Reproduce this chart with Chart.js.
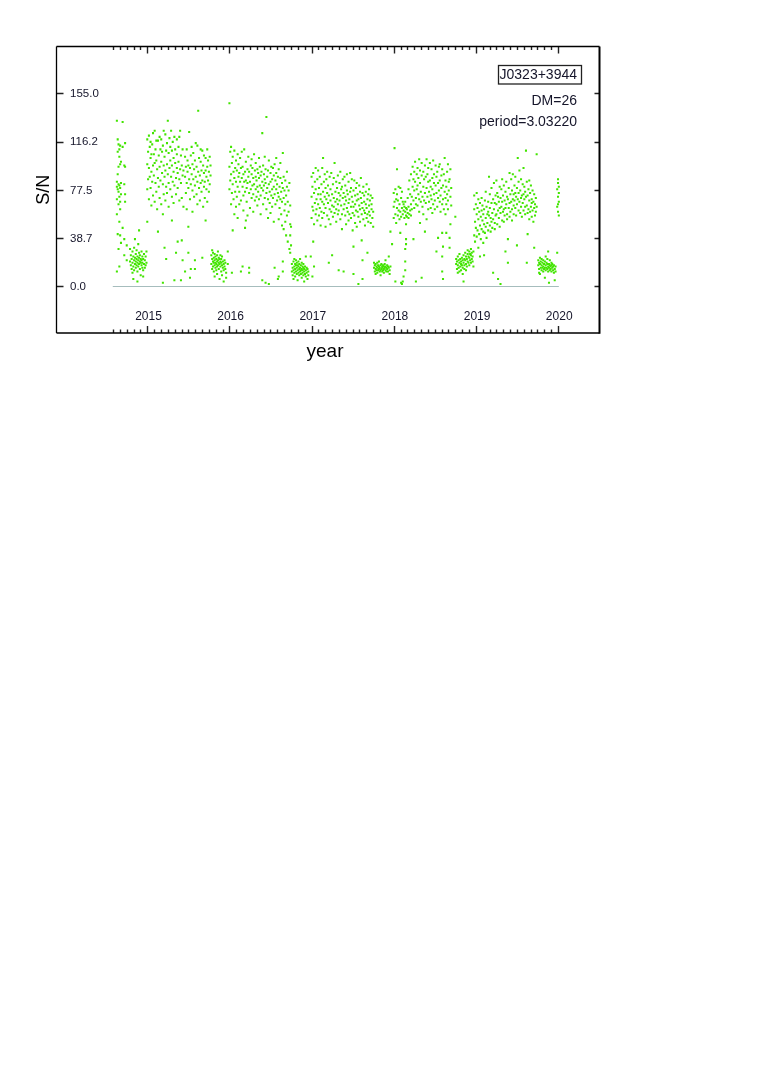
<!DOCTYPE html>
<html><head><meta charset="utf-8">
<script src="https://cdn.jsdelivr.net/npm/chart.js@4.4.1/dist/chart.umd.min.js"></script>
<style>html,body{margin:0;padding:0;background:#fff;overflow:hidden}canvas{display:block}</style>
</head><body>
<canvas id="c" width="762" height="1077" style="width:762px;height:1077px"></canvas>
<script>
// ---- tick values / labels ----
const yTickValues = [0, 38.75, 77.5, 116.25, 155];
const yTickLabels = ['0.0', '38.7', '77.5', '116.2', '155.0'];
const xTickValues = [2015, 2016, 2017, 2018, 2019, 2020];
const xTickLabels = ['2015', '2016', '2017', '2018', '2019', '2020'];
const xLabel = 'year';
const yLabel = 'S/N';
const sourceName = 'J0323+3944';
const infoLines = ['DM=26', 'period=3.03220'];
const baseline = [[2014.58, 0], [2020.01, 0]];

// ---- observations: rows of [year, S/N, S/N, ...] ----
const obsAug2014 = [
[2014.63,133,84,80,70,58,12],[2014.64,118,108,90,78,42],[2014.65,114,96,82,76,66,30],
[2014.66,110,104,81,72,52,16],[2014.67,113,98,79,68,62,41],[2014.68,100,83,74,35],
[2014.70,132,112,47],[2014.72,97,82,38,25],[2014.73,115,96,74,68],[2014.75,33,21]];
const obsLow2014 = [
[2014.79,30,20],[2014.80,25,17],[2014.81,22,14],[2014.82,28,19,11],[2014.83,24,16,6],
[2014.84,21,31,13],[2014.85,18,23,38],[2014.86,20,26,15],[2014.87,22,17,29],[2014.88,19,24,12,4],
[2014.89,21,16,34],[2014.90,23,18,27,45],[2014.91,20,14,25],[2014.92,19,22,9],[2014.93,17,28,21],
[2014.94,15,24,19],[2014.95,13,22,8],[2014.96,18,26],[2014.97,21,15],[2014.98,24,17],[2014.99,19,28]];
const obsHigh2015a = [
[2015.00,98,118,78,52],[2015.01,108,86],[2015.02,121,95,70],[2015.03,88,112],
[2015.04,103,79,116],[2015.05,92,65,106],[2015.06,114,84],[2015.07,97,73,123],
[2015.08,106,89],[2015.09,125,99,68],[2015.10,83,110],[2015.11,101,76,117],
[2015.12,94,62],[2015.13,117,87,44],[2015.14,105,80],[2015.15,96,120,71],
[2015.16,110,85],[2015.17,100,66,118],[2015.18,91,108],[2015.19,113,82,58,3],
[2015.20,125,97,74],[2015.21,104,88,31],[2015.22,122,93,69],[2015.23,109,80,22],
[2015.24,98,115,75],[2015.25,133,90],[2015.26,107,83,64],[2015.27,119,95],
[2015.28,101,78,112],[2015.29,125,88],[2015.30,97,109,72,53],[2015.31,84,116],
[2015.32,103,92,67],[2015.33,120,81,5],[2015.34,99,110],[2015.35,87,74,27],
[2015.36,106,95,118],[2015.37,91,79,36],[2015.38,112,100],[2015.39,120,86,69],
[2015.40,125,94],[2015.41,83,105,5],[2015.42,97,71,37],[2015.43,110,89,21],
[2015.44,93,64]];
const obsHigh2015b = [
[2015.46,88,104,12],[2015.47,75,96],[2015.48,110,83,62],[2015.49,92,101],
[2015.50,79,97,48,27],[2015.51,124,86],[2015.52,95,70,7],[2015.53,105,82,14],
[2015.54,90,112],[2015.55,77,98,60],[2015.56,86,107],[2015.57,94,72],
[2015.58,101,81,21,14],[2015.59,88,115],[2015.60,74,96],[2015.61,113,84,66],
[2015.62,141,92],[2015.63,79,103],[2015.64,89,69],[2015.65,100,83,110],
[2015.66,76,93],[2015.67,109,85,23],[2015.68,64,97],[2015.69,91,80,105],
[2015.70,84,71],[2015.71,103,93,53],[2015.72,78,88],[2015.73,96,110,68],
[2015.74,85,101],[2015.75,92,76],[2015.76,104,82],[2015.77,89,97]];
const obsLow2015 = [
[2015.78,18,25],[2015.79,14,22,29],[2015.80,20,16,27],[2015.81,23,12,19],[2015.82,17,21,26,8],
[2015.83,19,15,24],[2015.84,22,18,13],[2015.85,20,25,16,10],[2015.86,17,21,28],[2015.87,19,14,23],
[2015.88,22,18,6],[2015.89,16,20,25],[2015.90,19,12,22],[2015.91,17,24,9],[2015.92,20,15],
[2015.93,18,13,4],[2015.94,21,16],[2015.95,14,19],[2015.96,11,7],[2015.98,28,18]];
const obsHigh2016 = [
[2016.00,147,96,78],[2016.01,108,85],[2016.02,112,90,66],[2016.03,99,75,11],
[2016.04,104,82,45],[2016.05,92,70],[2016.06,109,87,58],[2016.07,95,76],
[2016.08,84,101,64],[2016.09,93,72],[2016.10,106,80,55],[2016.11,88,98],
[2016.12,76,91,66],[2016.13,103,84],[2016.14,95,69,12],[2016.15,87,108],
[2016.16,80,96,16],[2016.17,73,90,61],[2016.18,110,84],[2016.19,92,76,47],
[2016.20,85,100,53],[2016.21,79,68],[2016.22,94,83,57],[2016.23,88,104],
[2016.24,75,92,15,11],[2016.25,84,63],[2016.26,97,78],[2016.27,90,71,102],
[2016.28,81,95],[2016.29,74,87,60],[2016.30,106,82],[2016.31,93,69],
[2016.32,78,88,99],[2016.33,85,72],[2016.34,94,65,80],[2016.35,76,91],
[2016.36,87,70,103],[2016.37,81,96],[2016.38,73,89,58],[2016.39,92,79],
[2016.40,123,84,5],[2016.41,77,66,97],[2016.42,90,81],[2016.43,71,86,104],
[2016.44,83,94,3],[2016.45,136,75,62],[2016.46,88,79],[2016.47,70,93,55],
[2016.48,82,101,2],[2016.49,76,67],[2016.50,91,84,59],[2016.51,73,96],
[2016.52,86,78,64],[2016.53,95,71],[2016.54,80,89,52],[2016.55,74,98,15],
[2016.56,85,66],[2016.57,78,103,91],[2016.58,69,82],[2016.59,88,75,6],
[2016.60,72,94,54,8],[2016.61,80,63],[2016.62,87,70,99],[2016.63,76,58],
[2016.64,83,68,49],[2016.65,107,79,20,12],[2016.66,71,88,46],[2016.67,77,61],
[2016.68,85,66,52],[2016.69,73,41],[2016.70,80,57,92],[2016.71,68,36],
[2016.72,77,60],[2016.73,83,30],[2016.74,65,50]];
const obsLow2016 = [
[2016.74,27,41],[2016.75,48,33],[2016.76,18,12],[2016.77,15,9],[2016.78,20,13,6],
[2016.79,16,11,22],[2016.80,14,18,8],[2016.81,12,17,21],[2016.82,15,10,19],[2016.83,13,17,5],
[2016.84,16,11,20],[2016.85,14,18,9],[2016.86,12,15,22],[2016.87,17,10,13],[2016.88,14,19,7],
[2016.89,11,16,13],[2016.90,15,9,18],[2016.91,12,14,4],[2016.92,16,10],[2016.93,24,13,8],
[2016.94,11,15],[2016.95,14,6],[2016.96,9,12],[2016.99,24],[2017.01,8]];
const obsHigh2017 = [
[2017.00,72,55,88],[2017.01,64,80],[2017.02,91,61,36],[2017.03,75,50,16],
[2017.04,84,67],[2017.05,58,78,95],[2017.06,70,62],[2017.07,86,53],
[2017.08,66,93,74],[2017.09,79,57],[2017.10,63,88],[2017.11,74,49,70],
[2017.12,82,60],[2017.13,68,95,55],[2017.14,103,76],[2017.15,59,84,66],
[2017.16,72,90],[2017.17,63,48,79],[2017.18,86,70],[2017.19,57,75,92],
[2017.20,67,81],[2017.21,73,19,54],[2017.22,88,62],[2017.23,69,78,50],
[2017.24,91,60],[2017.25,74,25,65],[2017.26,82,56],[2017.27,64,87,71],
[2017.28,99,59],[2017.29,76,68],[2017.30,62,84,52],[2017.31,70,79],
[2017.32,58,89,66],[2017.33,75,13,61],[2017.34,83,69],[2017.35,54,92,73],
[2017.36,65,78],[2017.37,80,58,46],[2017.38,71,86],[2017.39,62,75,12],
[2017.40,88,66],[2017.41,57,72,81],[2017.42,69,50],[2017.43,77,63,90],
[2017.44,60,74],[2017.45,84,67,53],[2017.46,70,58],[2017.47,91,76],
[2017.48,64,55,79],[2017.49,72,86],[2017.50,59,68,45],[2017.51,77,64,32,10],
[2017.52,85,57],[2017.53,66,73,51],[2017.54,79,61],[2017.55,69,48,83],
[2017.56,74,60],[2017.57,56,70,2],[2017.58,81,65],[2017.59,62,52,76],
[2017.60,71,87],[2017.61,58,67,37],[2017.62,75,63,21,6],[2017.63,54,80],
[2017.64,68,61,73],[2017.65,59,49],[2017.66,76,66],[2017.67,63,55,82],
[2017.68,70,58,27],[2017.69,52,74],[2017.70,65,60,78],[2017.71,57,69],
[2017.72,73,51],[2017.73,62,66],[2017.74,55,71],[2017.75,60,48]];
const obsLow2017 = [
[2017.76,15,19],[2017.77,12,17],[2017.78,14,18,10],[2017.79,16,13],[2017.80,15,19,11],
[2017.81,13,17],[2017.82,16,14,20],[2017.83,12,15],[2017.84,17,13,9],[2017.85,14,18],
[2017.86,15,12,16],[2017.87,13,17],[2017.88,16,14,11],[2017.89,18,15],[2017.90,13,16,21],
[2017.91,15,12],[2017.92,17,14],[2017.93,12,16],[2017.94,24,15],[2017.95,13,10],
[2017.96,44,16],[2017.98,34],[2018.02,4],[2018.09,3]];
const obsHigh2018 = [
[2018.00,64,75,55],[2018.01,111,68],[2018.02,78,58],[2018.03,70,51],
[2018.04,94,63,74],[2018.05,57,69],[2018.06,80,61],[2018.07,66,54],
[2018.08,79,60,43],[2018.09,71,56],[2018.10,63,76,2],[2018.11,58,68,4],
[2018.12,61,66,8],[2018.13,55,64],[2018.14,60,68,30,20,13],[2018.15,57,63,50,38,34],
[2018.16,62,56],[2018.17,59,71],[2018.18,64,55,78],[2018.19,58,85],
[2018.20,61,74],[2018.21,66,90,57],[2018.22,72,62],[2018.23,80,96],
[2018.24,69,86,38],[2018.25,77,63,92],[2018.26,84,100],[2018.27,71,66,4],
[2018.28,90,78],[2018.29,65,95,81],[2018.30,74,87],[2018.31,102,70,60],
[2018.32,83,93,51],[2018.33,68,76],[2018.34,89,99,7],[2018.35,72,64],
[2018.36,80,92,58],[2018.37,86,69],[2018.38,97,75,44],[2018.39,67,88],
[2018.40,102,79,54],[2018.41,72,90],[2018.42,84,62,95],[2018.43,76,68],
[2018.44,99,85],[2018.45,63,80,73],[2018.46,94,70],[2018.47,78,87,59],
[2018.48,101,66],[2018.49,83,74,90],[2018.50,69,62],[2018.51,97,81],
[2018.52,75,88,28],[2018.53,64,92],[2018.54,83,71,39],[2018.55,96,77],
[2018.56,68,85,98],[2018.57,73,60],[2018.58,89,79],[2018.59,66,94,43,24,12],
[2018.60,81,70,32,6],[2018.61,90,62],[2018.62,103,76],[2018.63,71,85,58],
[2018.64,80,66,43],[2018.65,92,74],[2018.66,98,69,62],[2018.67,77,84],
[2018.68,86,39,31],[2018.69,72,50,94],[2018.70,65,79],[2018.75,56]];
const obsLow2018 = [
[2018.76,18,22],[2018.77,14,20],[2018.78,17,24,11],[2018.79,21,15],[2018.80,19,12,26],
[2018.81,16,22],[2018.82,20,13,18],[2018.83,23,17],[2018.84,15,21,10],[2018.85,19,25,4],
[2018.86,17,22,14],[2018.87,21,27],[2018.88,18,24,13],[2018.89,22,16],[2018.90,26,20,29],
[2018.91,19,24],[2018.92,23,17,28],[2018.93,21,26],[2018.94,25,19,30],[2018.95,22,27],
[2018.96,20,24],[2018.97,28,16]];
const obsHigh2019 = [
[2018.98,62,41,73],[2018.99,52,36],[2019.00,66,47],[2019.01,58,40,75],
[2019.02,45,63],[2019.03,31,54,70],[2019.04,60,42],[2019.05,49,24,67],
[2019.06,56,38],[2019.07,71,46,61],[2019.08,53,65],[2019.09,44,58,35],
[2019.10,25,62,50],[2019.11,69,43],[2019.12,55,48,76],[2019.13,64,39],
[2019.14,51,58],[2019.15,45,68,60],[2019.16,57,88],[2019.17,63,49,74],
[2019.18,55,44],[2019.19,67,52,79],[2019.20,59,47],[2019.21,70,11,54],
[2019.22,62,83],[2019.23,51,67,46],[2019.24,73,57],[2019.25,58,66,85],
[2019.26,50,75],[2019.27,61,6,72],[2019.28,68,55],[2019.29,80,63,48],
[2019.30,71,2,59],[2019.31,64,78],[2019.32,53,68,86],[2019.33,73,60],
[2019.34,62,81,52],[2019.35,69,57],[2019.36,76,28,63],[2019.37,84,66],
[2019.38,58,72,54],[2019.39,38,19,70],[2019.40,63,79],[2019.41,91,67,56],
[2019.42,74,60],[2019.43,86,68],[2019.44,62,77,53],[2019.45,70,90],
[2019.46,58,74,65],[2019.47,81,69],[2019.48,63,88,75],[2019.49,72,57],
[2019.50,79,33,66],[2019.51,103,70],[2019.52,61,84,75],[2019.53,68,93],
[2019.54,77,59],[2019.55,64,86,71],[2019.56,73,56],[2019.57,82,67],
[2019.58,61,95,74],[2019.59,70,80],[2019.60,58,76,64],[2019.61,109,72],
[2019.62,65,19,84],[2019.63,73,42,59],[2019.64,62,78],[2019.65,69,85,54],
[2019.66,75,60],[2019.67,64,81],[2019.68,70,56,67],[2019.69,61,77],
[2019.70,52,68],[2019.71,31,63,74],[2019.72,66,57],[2019.73,60,71],[2019.74,106,64]];
const obsLow2019 = [
[2019.76,17,21],[2019.77,14,19,11],[2019.78,18,23,10],[2019.79,15,20],[2019.80,17,13,22],
[2019.81,19,15],[2019.82,16,21,12],[2019.83,18,14],[2019.84,15,20,7],[2019.85,17,13,24],
[2019.86,19,15],[2019.87,14,18,22],[2019.88,16,12,28],[2019.89,18,15,3],[2019.90,13,17,21],
[2019.91,16,14],[2019.92,19,12,17],[2019.93,15,18],[2019.94,13,16],[2019.95,17,11],
[2019.96,14,5],[2019.97,16,12]];
const obsJan2020 = [
[2019.99,27,64,78],[2020.00,86,72,60,83,66],[2020.01,68,57,75,80]];

const allRows = [obsAug2014, obsLow2014, obsHigh2015a, obsHigh2015b, obsLow2015,
  obsHigh2016, obsLow2016, obsHigh2017, obsLow2017, obsHigh2018, obsLow2018,
  obsHigh2019, obsLow2019, obsJan2020];

function expand(groups) {
  const out = [];
  groups.forEach(rows => rows.forEach(r => {
    for (let i = 1; i < r.length; i++) out.push({x: r[0], y: r[i]});
  }));
  return out;
}

const FONT = '"Liberation Sans", Arial, Helvetica, sans-serif';
const INK = '#15152a';

const decor = {
  id: 'decor',
  afterDraw(chart) {
    const {ctx, chartArea: a, scales: {x, y}} = chart;
    ctx.save();
    // tick marks (inward)
    ctx.strokeStyle = '#222';
    ctx.lineWidth = 1.4;
    ctx.beginPath();
    for (let m = 7; m <= 72; m++) {
      const px = Math.round(x.getPixelForValue(2014 + m / 12)) + 0.5;
      const len = (m % 12 === 0) ? 7 : 3.5;
      ctx.moveTo(px, a.bottom); ctx.lineTo(px, a.bottom - len);
      ctx.moveTo(px, a.top); ctx.lineTo(px, a.top + len);
    }
    yTickValues.forEach(v => {
      const py = Math.round(y.getPixelForValue(v)) + 0.5;
      ctx.moveTo(a.left, py); ctx.lineTo(a.left + 7, py);
      ctx.moveTo(a.right, py); ctx.lineTo(a.right - 5, py);
    });
    ctx.stroke();
    // frame
    ctx.strokeStyle = '#000';
    ctx.lineWidth = 1.3;
    ctx.beginPath();
    ctx.moveTo(a.left, a.top); ctx.lineTo(a.right, a.top);
    ctx.moveTo(a.left, a.top); ctx.lineTo(a.left, a.bottom);
    ctx.moveTo(a.left, a.bottom); ctx.lineTo(a.right, a.bottom);
    ctx.stroke();
    ctx.lineWidth = 2;
    ctx.beginPath();
    ctx.moveTo(a.right, a.top); ctx.lineTo(a.right, a.bottom + 0.7);
    ctx.stroke();
    // tick labels
    ctx.fillStyle = INK;
    ctx.font = '11.5px ' + FONT;
    ctx.textAlign = 'left';
    ctx.textBaseline = 'middle';
    yTickValues.forEach((v, i) => {
      ctx.fillText(yTickLabels[i], a.left + 13.5, y.getPixelForValue(v) + 0.5);
    });
    ctx.font = '12px ' + FONT;
    ctx.textAlign = 'center';
    xTickValues.forEach((v, i) => {
      ctx.fillText(xTickLabels[i], x.getPixelForValue(v) + 1.2, a.bottom - 16.5);
    });
    // axis titles
    ctx.fillStyle = '#000';
    ctx.font = '19px ' + FONT;
    ctx.textAlign = 'center';
    ctx.textBaseline = 'alphabetic';
    ctx.fillText(xLabel, (a.left + a.right) / 2 - 3, 357);
    ctx.save();
    ctx.translate(49, (a.top + a.bottom) / 2);
    ctx.rotate(-Math.PI / 2);
    ctx.font = '18px ' + FONT;
    ctx.fillText(yLabel, 0, 0);
    ctx.restore();
    // annotations
    ctx.fillStyle = INK;
    ctx.font = '14px ' + FONT;
    ctx.textAlign = 'right';
    ctx.textBaseline = 'middle';
    ctx.fillText(sourceName, 577, 75);
    ctx.strokeStyle = '#222';
    ctx.lineWidth = 1.3;
    ctx.strokeRect(498.5, 65.5, 83, 18.5);
    ctx.fillText(infoLines[0], 577, 101.5);
    ctx.fillText(infoLines[1], 577, 122.5);
    ctx.restore();
  }
};

new Chart(document.getElementById('c'), {
  type: 'scatter',
  data: {
    datasets: [
      {
        type: 'line',
        data: baseline.map(p => ({x: p[0], y: p[1]})),
        borderColor: '#a6bdbd',
        borderWidth: 1.2,
        pointRadius: 0,
        fill: false
      },
      {
        data: expand(allRows),
        pointStyle: 'rect',
        pointRadius: 1.45,
        borderWidth: 0,
        backgroundColor: '#42e400'
      }
    ]
  },
  options: {
    responsive: false,
    animation: false,
    events: [],
    layout: {padding: {left: 56.5, top: 46.5, right: 162.5, bottom: 744}},
    plugins: {legend: {display: false}, tooltip: {enabled: false}, title: {display: false}},
    scales: {
      x: {type: 'linear', display: false, min: 2013.895, max: 2020.505},
      y: {type: 'linear', display: false, min: -37.3, max: 192.5}
    }
  },
  plugins: [decor]
});
</script>
</body></html>
